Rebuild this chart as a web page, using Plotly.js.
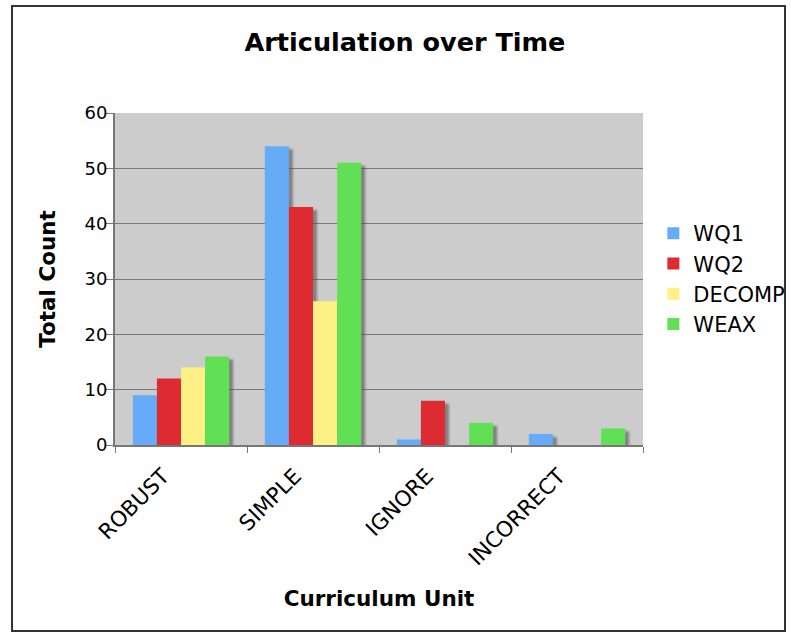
<!DOCTYPE html>
<html>
<head>
<meta charset="utf-8">
<script src="https://cdn.plot.ly/plotly-3.0.1.min.js"></script>
<style>
  html, body { margin: 0; padding: 0; background: #fff; }
  #wrap { position: relative; width: 791px; height: 634px; }
  #chart { position: absolute; left: 0; top: 0; width: 791px; height: 634px; }
  #frame { position: absolute; left: 11px; top: 5px; width: 771px; height: 623px;
           border: 2px solid #333; pointer-events: none; }
  /* soft drop shadow behind each bar */
  .trace.bars .point path { filter: drop-shadow(4px 3px 1px rgba(70,70,70,0.55)); }
</style>
</head>
<body>
<div id="wrap">
  <div id="chart"></div>
  <div id="frame"></div>
</div>
<script>
const categories = ["ROBUST", "SIMPLE", "IGNORE", "INCORRECT"];
const wq1    = [9, 54, 1, 2];
const wq2    = [12, 43, 8, 0];
const decomp = [14, 26, 0, 0];
const weax   = [16, 51, 4, 3];

const seriesNames  = ["WQ1", "WQ2", "DECOMP", "WEAX"];
const seriesValues = [wq1, wq2, decomp, weax];
const seriesColors = ["#66abf8", "#dd2b31", "#fdf186", "#62e055"];

const font = "DejaVu Sans, Verdana, sans-serif";

const data = seriesNames.map((name, i) => ({
  type: "bar",
  name: name,
  x: categories,
  y: seriesValues[i],
  marker: { color: seriesColors[i], line: { width: 0 } },
  hoverinfo: "x+y+name"
}));

const layout = {
  width: 791,
  height: 634,
  margin: { l: 115, r: 148, t: 113, b: 189, autoexpand: false },
  paper_bgcolor: "rgba(0,0,0,0)",
  plot_bgcolor: "#cccccc",
  barmode: "group",
  bargap: 0.27,
  bargroupgap: 0,
  title: {
    text: "<b>Articulation over Time</b>",
    font: { family: font, size: 25.5, color: "#000" },
    x: 0.512, xanchor: "center",
    y: 0.934, yanchor: "middle"
  },
  xaxis: {
    title: { text: "<b>Curriculum Unit</b>", font: { family: font, size: 21.5, color: "#000" }, standoff: 22 },
    tickangle: -45,
    tickfont: { family: font, size: 21.5, color: "#000" },
    ticks: "outside",
    tickson: "boundaries",
    ticklen: 6,
    tickcolor: "#777",
    ticklabelstandoff: 8,
    ticklabelshift: -18,
    showline: true,
    linecolor: "#777",
    linewidth: 2,
    showgrid: false
  },
  yaxis: {
    title: { text: "<b>Total Count</b>", font: { family: font, size: 21.5, color: "#000" }, standoff: 23 },
    range: [0, 60],
    dtick: 10,
    tickfont: { family: font, size: 18, color: "#000" },
    ticks: "outside",
    ticklen: 8,
    tickcolor: "#777",
    ticklabelstandoff: -6,
    showline: true,
    linecolor: "#777",
    linewidth: 2,
    showgrid: true,
    gridcolor: "#7a7a7a",
    gridwidth: 1,
    zeroline: false
  },
  legend: {
    xref: "container", yref: "container",
    x: 0.826, xanchor: "left",
    y: 0.664, yanchor: "top",
    font: { family: font, size: 21, color: "#000" },
    tracegroupgap: 0,
    itemwidth: 30,
    bgcolor: "rgba(0,0,0,0)"
  },
  showlegend: true
};

Plotly.newPlot("chart", data, layout, { displayModeBar: false, staticPlot: true });
</script>
</body>
</html>
